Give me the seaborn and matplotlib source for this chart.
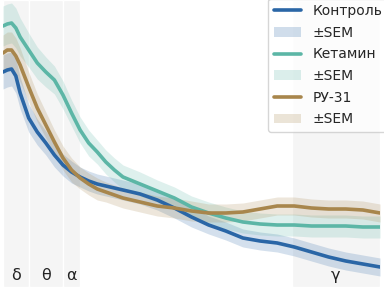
import matplotlib
matplotlib.use("Agg")
import matplotlib.pyplot as plt
import seaborn as sns
import numpy as np
import pandas as pd
from matplotlib.lines import Line2D
from matplotlib.patches import Patch

# Frequency grid (Hz)
freqs = [1, 1.5, 2, 2.5, 3, 4, 5, 6, 7, 8, 9, 10, 11, 12, 13, 14, 15, 17, 19, 21,
         23, 25, 27, 29, 31, 33, 35, 37, 39, 41, 43, 45]

# Relative power (arbitrary units)
control = [20.8, 21.0, 21.1, 20.4, 18.7, 16.2, 14.8, 13.7, 12.5, 11.5, 10.8, 10.3,
           9.9, 9.6, 9.4, 9.2, 9.0, 8.6, 8.0, 7.2, 6.3, 5.5, 4.9, 4.2, 3.9, 3.7,
           3.3, 2.8, 2.3, 1.9, 1.6, 1.3]
control_sem = [1.7, 1.7, 1.7, 1.7, 1.6, 1.4, 1.3, 1.2, 1.2, 1.1, 1.1, 1.0,
               1.0, 1.0, 1.0, 1.0, 1.0, 1.0, 1.0, 1.0, 1.0, 0.9, 0.9, 0.9, 0.9, 0.9,
               0.9, 0.9, 0.9, 0.9, 0.9, 0.9]

ketamine = [25.4, 25.6, 25.7, 25.2, 24.3, 23.0, 21.7, 20.8, 20.0, 18.5, 16.7, 15.0,
            13.7, 12.8, 11.8, 11.0, 10.3, 9.6, 8.9, 8.2, 7.3, 6.7, 6.2, 5.8, 5.6, 5.5,
            5.5, 5.4, 5.4, 5.4, 5.3, 5.3]
ketamine_sem = [2.0, 2.0, 2.0, 2.0, 1.9, 1.7, 1.6, 1.5, 1.4, 1.4, 1.3, 1.3,
                1.3, 1.2, 1.2, 1.2, 1.2, 1.2, 1.1, 1.1, 1.1, 1.1, 1.1, 1.1, 1.1, 1.1,
                1.1, 1.1, 1.1, 1.1, 1.1, 1.1]

ru31 = [22.7, 23.0, 23.0, 22.4, 21.5, 19.3, 17.2, 15.5, 13.8, 12.2, 11.0, 10.2,
        9.6, 9.1, 8.8, 8.5, 8.2, 7.8, 7.4, 7.2, 6.9, 6.7, 6.7, 6.8, 7.1, 7.4,
        7.4, 7.2, 7.1, 7.1, 7.0, 6.7]
ru31_sem = [1.8, 1.8, 1.8, 1.8, 1.7, 1.5, 1.4, 1.3, 1.2, 1.2, 1.2, 1.1,
            1.1, 1.1, 1.0, 1.0, 1.0, 1.0, 1.0, 1.0, 1.0, 0.9, 0.9, 0.9, 0.9, 0.9,
            0.9, 0.9, 0.9, 0.9, 0.9, 0.9]

group_names = ["Контроль", "Кетамин", "РУ-31"]
sem_label = "±SEM"
colors = ["#2a66a6", "#5cb6a6", "#a8864c"]

band_labels = ["δ", "θ", "α", "γ"]
band_edges = [(1, 4), (4, 8), (8, 10), (34.7, 45)]

df = pd.concat([
    pd.DataFrame({"freq": freqs, "power": vals, "group": name})
    for name, vals in zip(group_names, [control, ketamine, ru31])
])
sems = [control_sem, ketamine_sem, ru31_sem]

sns.set_style("white")
plt.rcParams['font.family'] = ['DejaVu Sans']

fig = plt.figure(figsize=(3.84, 2.87), dpi=100)
ax = fig.add_axes([3 / 384, 0, 377 / 384, 1])

for (lo, hi) in band_edges:
    ax.axvspan(lo, hi, facecolor="#f5f5f5", edgecolor="white", linewidth=1.0, zorder=0)

for name, sem, col in zip(group_names, sems, colors):
    sub = df[df["group"] == name]
    m = sub["power"].to_numpy()
    s = np.array(sem)
    ax.fill_between(sub["freq"], m - s, m + s, color=col, alpha=0.2, linewidth=0, zorder=1)

sns.lineplot(data=df, x="freq", y="power", hue="group", palette=colors,
             hue_order=group_names, linewidth=2.6, ax=ax, legend=False, zorder=2)

for lab, (lo, hi) in zip(band_labels, band_edges):
    ax.text((lo + hi) / 2, 0.04, lab, transform=ax.get_xaxis_transform(),
            ha="center", va="center", fontsize=11.5, color="#222222")

ax.set_xlim(1, 45)
ax.set_ylim(-0.7, 28)
ax.set_xlabel("")
ax.set_ylabel("")
ax.set_xticks([])
ax.set_yticks([])
for sp in ax.spines.values():
    sp.set_visible(False)

handles = []
labels = []
for name, col in zip(group_names, colors):
    handles.append(Line2D([0], [0], color=col, linewidth=2.6))
    labels.append(name)
    handles.append(Patch(facecolor=col, alpha=0.22, linewidth=0))
    labels.append(sem_label)
leg = ax.legend(handles, labels, loc="upper right", bbox_to_anchor=(1.021, 1.005),
                borderaxespad=0, fontsize=10, frameon=True, labelspacing=0.55)
leg.get_frame().set_edgecolor("#cccccc")

fig.savefig("out.png", dpi=100)
